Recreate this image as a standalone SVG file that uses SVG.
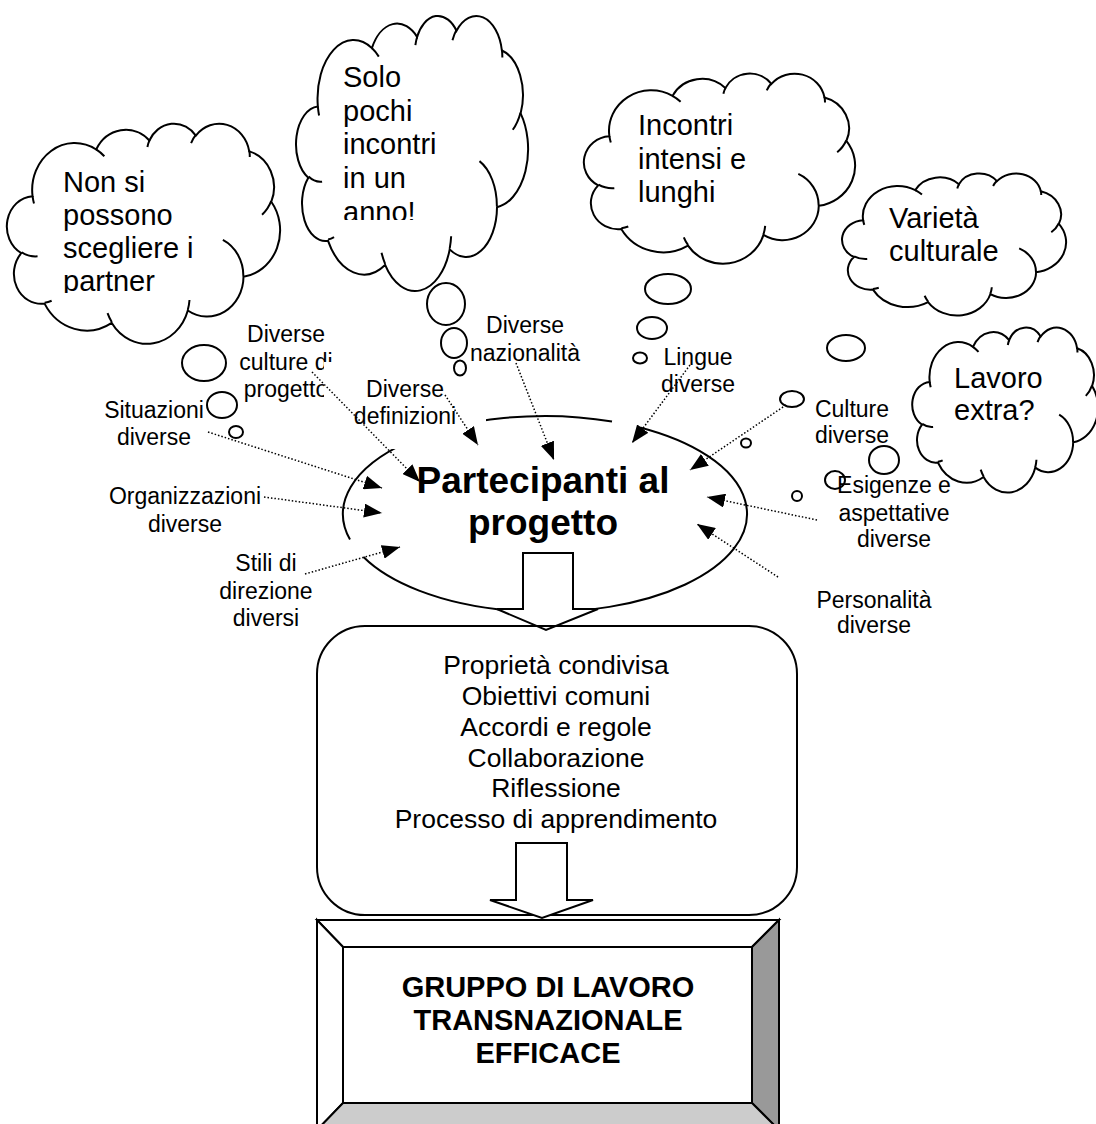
<svg xmlns="http://www.w3.org/2000/svg" xmlns:xlink="http://www.w3.org/1999/xlink" width="1096" height="1124" viewBox="0 0 1096 1124">
<style>
.cl{fill:#fff;stroke:#000;stroke-width:2;vector-effect:non-scaling-stroke}
.cr{fill:none;stroke:#000;stroke-width:2;vector-effect:non-scaling-stroke}
.bub{fill:#fff;stroke:#000;stroke-width:2}
.txt{font-family:"Liberation Sans",Arial,sans-serif;fill:#000}
.ct{font-size:29px}
.lbl{font-size:23px;text-anchor:middle}
.lst{font-size:26.5px;text-anchor:middle}
.conn{fill:none;stroke:#000;stroke-width:1.5;stroke-dasharray:1.5 2;marker-end:url(#ah)}
.shape{fill:#fff;stroke:#000;stroke-width:2}
</style>
<defs>
<marker id="ah" markerUnits="userSpaceOnUse" markerWidth="18" markerHeight="14" refX="18" refY="7" orient="auto"><path d="M0,0 L18,7 L0,14 Z" fill="#000"/></marker>
<path id="cloudOut" class="cl" d="M9.028,33.264 A15.632,21.273 0 0 1 32.419,12.042 A12.345,16.822 0 0 1 51.979,7.944 A10.104,13.762 0 0 1 69.056,5.741 A11.243,15.266 0 0 1 88.697,12.905 A12.345,16.836 0 0 1 96.801,35.785 A15.683,21.343 0 0 1 86.583,69.912 A13.391,18.211 0 0 1 66.100,85.215 A15.630,21.331 0 0 1 38.150,90.889 A17.870,24.405 0 0 1 13.440,82.111 A10.093,13.699 0 0 1 4.894,59.144 A10.058,13.762 0 0 1 9.028,33.264 Z"/>
<path id="cloudIn" class="cr" d="M10.863,60.595 A10.058,13.762 0 0 1 5.000,58.750 M16.037,80.785 A10.093,13.699 0 0 1 13.471,81.668 M38.144,90.486 A15.630,21.331 0 0 1 36.596,86.455 M66.729,80.442 A15.630,21.331 0 0 1 66.112,84.862 M79.002,53.134 A13.391,18.211 0 0 1 86.529,69.652 M96.755,35.542 A12.345,16.836 0 0 1 93.403,41.736 M88.713,12.560 A11.243,15.266 0 0 1 88.890,15.485 M67.310,9.148 A11.243,15.266 0 0 1 69.028,5.415 M51.252,10.926 A10.104,13.762 0 0 1 52.084,7.710 M32.407,12.019 A15.632,21.273 0 0 1 35.414,15.136 M9.553,36.549 A15.632,21.273 0 0 1 9.028,33.266"/>
<clipPath id="clip1"><rect x="0" y="100" width="300" height="193"/></clipPath>
<clipPath id="clip2"><rect x="290" y="0" width="250" height="220"/></clipPath>
</defs>
<rect width="1096" height="1124" fill="#fff"/>

<g id="participants">
<path class="shape" fill="none" style="fill:none" d="M640,427.5 A202,98 0 1 1 363.5,557 M350,539.6 A202,98 0 0 1 612,421.5"/>
<text class="txt" font-weight="bold" font-size="37" text-anchor="middle"><tspan x="543" y="493">Partecipanti al</tspan><tspan x="543" y="535">progetto</tspan></text>
</g>

<g id="lbl-culture-progetto">
<text class="txt lbl"><tspan x="286" y="342">Diverse</tspan><tspan x="286" y="370">culture di</tspan><tspan x="286" y="397">progetto</tspan></text>
</g>
<g id="lbl-definizioni">
<rect x="324" y="362" width="162" height="87" fill="#fff"/>
<text class="txt lbl"><tspan x="405" y="397">Diverse</tspan><tspan x="405" y="424">definizioni</tspan></text>
</g>

<g id="cloud-partner">
<g transform="translate(8,123) scale(2.72,2.2)"><use xlink:href="#cloudOut"/><use xlink:href="#cloudIn"/></g>
<ellipse class="bub" cx="204" cy="363" rx="22" ry="18"/>
<ellipse class="bub" cx="222" cy="405" rx="15" ry="13"/>
<ellipse class="bub" cx="236" cy="432" rx="7" ry="6"/>
<text class="txt ct" clip-path="url(#clip1)"><tspan x="63" y="191.5">Non si</tspan><tspan x="63" y="224.5">possono</tspan><tspan x="63" y="257.5">scegliere i</tspan><tspan x="63" y="290.5">partner</tspan></text>
</g>

<g id="cloud-incontri-anno">
<g transform="translate(297,15) scale(2.31,2.75)"><use xlink:href="#cloudOut"/><use xlink:href="#cloudIn"/></g>
<ellipse class="bub" cx="446" cy="304" rx="19" ry="21"/>
<ellipse class="bub" cx="454" cy="343" rx="13" ry="15"/>
<ellipse class="bub" cx="460" cy="368" rx="6" ry="7.5"/>
<text class="txt ct" clip-path="url(#clip2)"><tspan x="343" y="87">Solo</tspan><tspan x="343" y="120.5">pochi</tspan><tspan x="343" y="154">incontri</tspan><tspan x="343" y="187.5">in un</tspan><tspan x="343" y="221.5">anno!</tspan></text>
</g>

<g id="cloud-intensi">
<g transform="translate(585,73) scale(2.70,1.90)"><use xlink:href="#cloudOut"/><use xlink:href="#cloudIn"/></g>
<ellipse class="bub" cx="668" cy="289" rx="23" ry="15"/>
<ellipse class="bub" cx="652" cy="328" rx="15" ry="11"/>
<ellipse class="bub" cx="640" cy="358" rx="7" ry="5.5"/>
<text class="txt ct"><tspan x="638" y="135">Incontri</tspan><tspan x="638" y="168.5">intensi e</tspan><tspan x="638" y="202">lunghi</tspan></text>
</g>

<g id="cloud-varieta">
<g transform="translate(843,173) scale(2.23,1.42)"><use xlink:href="#cloudOut"/><use xlink:href="#cloudIn"/></g>
<ellipse class="bub" cx="846" cy="348" rx="19" ry="13"/>
<ellipse class="bub" cx="792" cy="399" rx="12" ry="8"/>
<ellipse class="bub" cx="746" cy="443" rx="5" ry="4.5"/>
<text class="txt ct"><tspan x="889" y="228">Varietà</tspan><tspan x="889" y="260.5">culturale</tspan></text>
</g>

<g id="cloud-lavoro">
<g transform="translate(913,327) scale(1.85,1.65)"><use xlink:href="#cloudOut"/><use xlink:href="#cloudIn"/></g>
<ellipse class="bub" cx="884" cy="460" rx="15" ry="14"/>
<ellipse class="bub" cx="835" cy="480" rx="10" ry="9"/>
<ellipse class="bub" cx="797" cy="496" rx="5" ry="5"/>
<text class="txt ct"><tspan x="954" y="388">Lavoro</tspan><tspan x="954" y="420">extra?</tspan></text>
</g>

<g id="lbl-situazioni"><text class="txt lbl"><tspan x="154" y="418">Situazioni</tspan><tspan x="154" y="445">diverse</tspan></text></g>
<g id="lbl-organizzazioni"><text class="txt lbl"><tspan x="185" y="504">Organizzazioni</tspan><tspan x="185" y="532">diverse</tspan></text></g>
<g id="lbl-stili"><text class="txt lbl"><tspan x="266" y="571">Stili di</tspan><tspan x="266" y="599">direzione</tspan><tspan x="266" y="626">diversi</tspan></text></g>
<g id="lbl-nazionalita"><text class="txt lbl"><tspan x="525" y="333">Diverse</tspan><tspan x="525" y="361">nazionalità</tspan></text></g>
<g id="lbl-lingue"><text class="txt lbl"><tspan x="698" y="365">Lingue</tspan><tspan x="698" y="392">diverse</tspan></text></g>
<g id="lbl-culture"><text class="txt lbl"><tspan x="852" y="417">Culture</tspan><tspan x="852" y="443">diverse</tspan></text></g>
<g id="lbl-esigenze"><text class="txt lbl"><tspan x="894" y="493">Esigenze e</tspan><tspan x="894" y="521">aspettative</tspan><tspan x="894" y="547">diverse</tspan></text></g>
<g id="lbl-personalita"><text class="txt lbl"><tspan x="874" y="608">Personalità</tspan><tspan x="874" y="633">diverse</tspan></text></g>

<g id="arrow-1">
<path class="shape" d="M523,553 L573,553 L573,609 L598,609 L546,630 L497,609 L523,609 Z"/>
</g>

<g id="process-box">
<rect x="317" y="626" width="480" height="289" rx="48" ry="48" fill="none" stroke="#000" stroke-width="2"/>
<text class="txt lst"><tspan x="556" y="674">Proprietà condivisa</tspan><tspan x="556" y="705">Obiettivi comuni</tspan><tspan x="556" y="736">Accordi e regole</tspan><tspan x="556" y="766.5">Collaborazione</tspan><tspan x="556" y="797">Riflessione</tspan><tspan x="556" y="828">Processo di apprendimento</tspan></text>
</g>

<g id="arrow-2">
<path class="shape" d="M516,843 L567,843 L567,900 L593,900 L542,918 L490,900 L516,900 Z"/>
</g>

<g id="result-box" stroke="#000" stroke-width="2" stroke-linejoin="miter">
<path d="M317,920 L779,920 L752,947 L343,947 Z" fill="#fff"/>
<path d="M317,920 L343,947 L343,1103 L317,1130 Z" fill="#fff"/>
<path d="M779,920 L779,1130 L752,1103 L752,947 Z" fill="#999"/>
<path d="M317,1130 L343,1103 L752,1103 L779,1130 Z" fill="#ccc"/>
<rect x="343" y="947" width="409" height="156" fill="#fff"/>
<text class="txt" stroke="none" font-weight="bold" font-size="29" text-anchor="middle"><tspan x="548" y="997">GRUPPO DI LAVORO</tspan><tspan x="548" y="1030">TRANSNAZIONALE</tspan><tspan x="548" y="1063">EFFICACE</tspan></text>
</g>

<g id="connectors">
<line class="conn" x1="208" y1="432" x2="382" y2="488"/>
<line class="conn" x1="264" y1="497" x2="382" y2="513"/>
<line class="conn" x1="305" y1="574" x2="400" y2="547"/>
<line class="conn" x1="312" y1="372" x2="420" y2="482"/>
<line class="conn" x1="445" y1="395" x2="478" y2="445"/>
<line class="conn" x1="516" y1="363" x2="554" y2="460"/>
<line class="conn" x1="690" y1="365" x2="632" y2="443"/>
<line class="conn" x1="786" y1="405" x2="690" y2="470"/>
<line class="conn" x1="817" y1="520" x2="707" y2="497"/>
<line class="conn" x1="778" y1="577" x2="697" y2="524"/>
</g>
</svg>
